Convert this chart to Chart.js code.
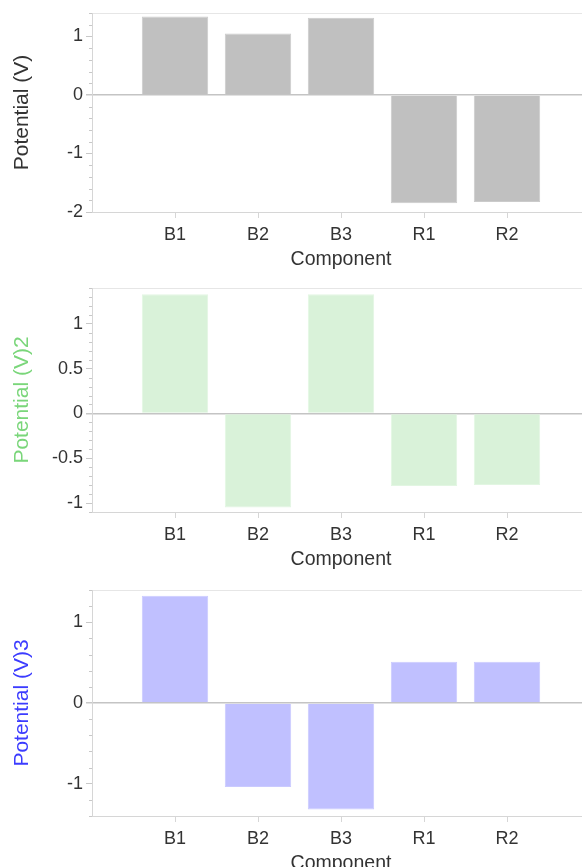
<!DOCTYPE html>
<html><head><meta charset="utf-8">
<script src="https://cdn.jsdelivr.net/npm/chart.js@4/dist/chart.umd.min.js"></script>
<style>
html,body{margin:0;padding:0;background:#fff;overflow:hidden;width:582px;height:867px}
canvas{display:block}
</style></head><body>
<canvas id="c1" width="590" height="280"></canvas>
<canvas id="c2" width="590" height="300"></canvas>
<canvas id="c3" width="590" height="304"></canvas>
<script>
const categories = ['B1', 'B2', 'B3', 'R1', 'R2'];
const potential1 = [1.34, 1.05, 1.32, -1.85, -1.83];
const potential2 = [1.33, -1.05, 1.33, -0.81, -0.80];
const potential3 = [1.33, -1.04, -1.32, 0.51, 0.51];
const yTicks1 = [-2, -1, 0, 1];
const yTicks2 = [-1, -0.5, 0, 0.5, 1];
const yTicks3 = [-1, 0, 1];
const yRange1 = [-2, 1.4];
const yRange2 = [-1.1, 1.4];
const yRange3 = [-1.4, 1.4];
const minorStep1 = 0.2, minorStep2 = 0.1, minorStep3 = 0.2;
const xTitle = 'Component';
const yTitle1 = 'Potential (V)', yTitle2 = 'Potential (V)2', yTitle3 = 'Potential (V)3';

const FONT = "'Liberation Sans', Arial, sans-serif";
const AXIS_COLOR = '#d6d6d6';
const TEXT_COLOR = '#333333';

function makeChart(id, values, yTicks, yRange, minorStep, title, titleColor, barColor, edgeColor, padTop, padBottom) {
  const n = categories.length;
  const [yMin, yMax] = yRange;
  const minorPlugin = {
    id: 'minorTicks' + id,
    afterDraw(chart) {
      const s = chart.scales.y;
      const ctx = chart.ctx;
      ctx.save();
      ctx.strokeStyle = '#c8c8c8';
      ctx.lineWidth = 1;
      const steps = Math.round((yMax - yMin) / minorStep);
      for (let i = 0; i <= steps; i++) {
        const v = Math.round((yMin + i * minorStep) * 1000) / 1000;
        if (yTicks.some(t => Math.abs(t - v) < 1e-6)) continue;
        const y = Math.round(s.getPixelForValue(v)) + 0.5;
        ctx.beginPath();
        ctx.moveTo(s.right - 3, y);
        ctx.lineTo(s.right, y);
        ctx.stroke();
      }
      ctx.restore();
    }
  };
  return new Chart(document.getElementById(id), {
    type: 'bar',
    data: {
      datasets: [{
        data: values.map((v, i) => ({x: i + 1, y: v})),
        backgroundColor: barColor,
        borderColor: edgeColor,
        borderWidth: 1,
        barPercentage: 0.8,
        categoryPercentage: 1.0
      }]
    },
    options: {
      responsive: false,
      animation: false,
      devicePixelRatio: 1,
      layout: {padding: {top: padTop, bottom: padBottom, left: 0, right: 0}},
      plugins: {legend: {display: false}, tooltip: {enabled: false}},
      scales: {
        x: {
          type: 'linear',
          offset: false,
          min: 0,
          max: n + 1,
          afterBuildTicks: (s) => { s.ticks = Array.from({length: n + 2}, (_, i) => ({value: i})); },
          afterFit: (s) => { s.paddingLeft = 0; s.paddingRight = 0; },
          ticks: {
            autoSkip: false, maxRotation: 0, padding: 6,
            color: TEXT_COLOR, font: {family: FONT, size: 18},
            callback: (v) => categories[v - 1] ?? ''
          },
          grid: {
            offset: false,
            drawOnChartArea: false,
            tickLength: 6,
            color: AXIS_COLOR,
            tickColor: (c) => (c.tick && c.tick.value >= 1 && c.tick.value <= n) ? AXIS_COLOR : 'rgba(0,0,0,0)'
          },
          border: {color: AXIS_COLOR, width: 1},
          title: {display: true, text: xTitle, color: TEXT_COLOR, font: {family: FONT, size: 19.5}, padding: {top: -4, bottom: 4}}
        },
        y: {
          type: 'linear',
          min: yMin,
          max: yMax,
          afterBuildTicks: (s) => { s.ticks = [...yTicks, yMax].map(v => ({value: v})); },
          afterFit: (s) => { s.width = 92; s.paddingTop = 0; s.paddingBottom = 0; },
          ticks: {
            padding: 3, color: TEXT_COLOR, font: {family: FONT, size: 18},
            callback: (v) => yTicks.includes(v) ? String(v) : ''
          },
          grid: {
            tickLength: 6,
            color: (c) => !c.tick ? 'rgba(0,0,0,0)' : (c.tick.value === 0 ? '#c4c4c4' : (c.tick.value === yMax ? '#e6e6e6' : 'rgba(0,0,0,0)')),
            lineWidth: (c) => (c.tick && c.tick.value === 0) ? 1.5 : 1,
            tickColor: (c) => (c.tick && yTicks.includes(c.tick.value)) ? '#c8c8c8' : 'rgba(0,0,0,0)'
          },
          border: {color: AXIS_COLOR, width: 1},
          title: {display: true, text: title, color: titleColor, font: {family: FONT, size: 21}, padding: {top: 10, bottom: 0}}
        }
      }
    },
    plugins: [minorPlugin]
  });
}

makeChart('c1', potential1, yTicks1, yRange1, minorStep1, yTitle1, '#333333', '#c0c0c0', '#cbcbcb', 13, 5);
makeChart('c2', potential2, yTicks2, yRange2, minorStep2, yTitle2, '#7ad67a', '#d9f2d9', '#e2f6e2', 8, 5);
makeChart('c3', potential3, yTicks3, yRange3, minorStep3, yTitle3, '#3c3cff', '#c0c0ff', '#cacaff', 10, 5);
</script>
</body></html>
